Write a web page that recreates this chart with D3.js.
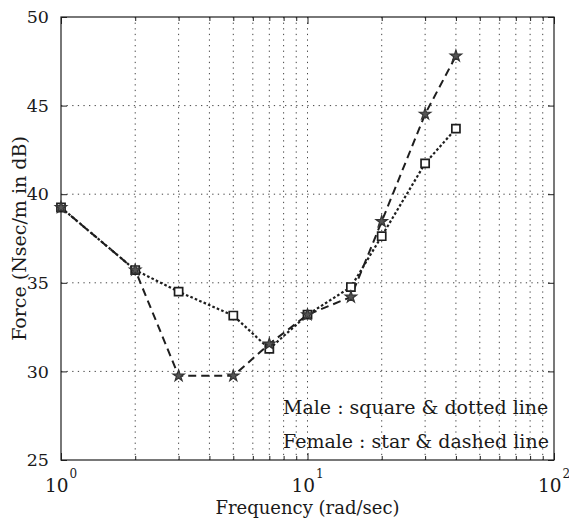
<!DOCTYPE html>
<html>
<head>
<meta charset="utf-8">
<script src="https://cdn.jsdelivr.net/npm/d3@7"></script>
<style>
  html, body { margin: 0; padding: 0; background: #ffffff; }
  svg { display: block; }
  text { font-family: "DejaVu Serif", "Liberation Serif", serif; fill: #1a1a1a; }
</style>
</head>
<body>
<svg id="chart" width="569" height="519"></svg>
<script>
// Measured force response vs. excitation frequency
const frequencies = [1, 2, 3, 5, 7, 10, 15, 20, 30, 40];
const maleForce   = [39.25, 35.72, 34.5, 33.15, 31.27, 33.2, 34.76, 37.63, 41.74, 43.7];
const femaleForce = [39.25, 35.72, 29.75, 29.75, 31.55, 33.2, 34.2, 38.46, 44.52, 47.8];

const yTickValues = [25, 30, 35, 40, 45, 50];
const xDecadeExponents = [0, 1, 2];
const legendLines = ["Male : square & dotted line", "Female : star & dashed line"];
const xAxisTitle = "Frequency (rad/sec)";
const yAxisTitle = "Force (Nsec/m in dB)";

const svg = d3.select("#chart");
const plot = { left: 61, right: 554, top: 17, bottom: 460 };

const x = d3.scaleLog().domain([1, 100]).range([plot.left, plot.right]);
const y = d3.scaleLinear().domain([25, 50]).range([plot.bottom, plot.top]);

// log-spaced grid positions: 2..9, 10, 20..90
const gridX = [];
for (let d = 1; d < 100; d *= 10) {
  for (let m = 1; m <= 9; m++) {
    const v = m * d;
    if (v > 1 && v < 100) gridX.push(v);
  }
}
const gridY = yTickValues.filter(v => v > 25 && v < 50);

const ink = "#1e1e1e";
const gridColor = "#444";

// dotted grid
const grid = svg.append("g");
grid.selectAll("line.gx").data(gridX).join("line")
  .attr("x1", d => x(d)).attr("x2", d => x(d))
  .attr("y1", plot.top).attr("y2", plot.bottom)
  .attr("stroke", gridColor).attr("stroke-width", 1)
  .attr("stroke-dasharray", "1.3,4.3");
grid.selectAll("line.gy").data(gridY).join("line")
  .attr("x1", plot.left).attr("x2", plot.right)
  .attr("y1", d => y(d)).attr("y2", d => y(d))
  .attr("stroke", gridColor).attr("stroke-width", 1)
  .attr("stroke-dasharray", "1.3,4.3");

// axes with inward ticks
const majorX = xDecadeExponents.map(e => Math.pow(10, e));
const minorX = gridX.filter(v => !majorX.includes(v));

function styleAxis(g) {
  g.select(".domain").remove();
  g.selectAll(".tick line").attr("stroke", ink).attr("stroke-width", 1);
}

svg.append("g").attr("transform", `translate(0,${plot.bottom})`)
  .call(d3.axisBottom(x).tickValues(minorX).tickSize(-4).tickFormat(""))
  .call(styleAxis);
svg.append("g").attr("transform", `translate(0,${plot.top})`)
  .call(d3.axisTop(x).tickValues(minorX).tickSize(-4).tickFormat(""))
  .call(styleAxis);
svg.append("g").attr("transform", `translate(0,${plot.bottom})`)
  .call(d3.axisBottom(x).tickValues(majorX).tickSize(-7).tickFormat(""))
  .call(styleAxis);
svg.append("g").attr("transform", `translate(0,${plot.top})`)
  .call(d3.axisTop(x).tickValues(majorX).tickSize(-7).tickFormat(""))
  .call(styleAxis);

const yAxisG = svg.append("g").attr("transform", `translate(${plot.left},0)`)
  .call(d3.axisLeft(y).tickValues(yTickValues).tickSize(-6).tickPadding(12))
  .call(styleAxis);
yAxisG.selectAll(".tick text")
  .attr("font-family", "DejaVu Serif").attr("font-size", 17.5).attr("fill", ink);
svg.append("g").attr("transform", `translate(${plot.right},0)`)
  .call(d3.axisRight(y).tickValues(yTickValues).tickSize(-6).tickFormat(""))
  .call(styleAxis);

// x tick labels as 10^n
const xLab = svg.append("g");
xDecadeExponents.forEach(e => {
  const t = xLab.append("text")
    .attr("x", x(Math.pow(10, e)))
    .attr("y", plot.bottom + 32)
    .attr("text-anchor", "middle")
    .attr("font-size", 18.5);
  t.append("tspan").text("10");
  t.append("tspan").attr("dy", -14).attr("dx", 1).attr("font-size", 12).text(String(e));
});

// frame
svg.append("rect")
  .attr("x", plot.left).attr("y", plot.top)
  .attr("width", plot.right - plot.left).attr("height", plot.bottom - plot.top)
  .attr("fill", "none").attr("stroke", ink).attr("stroke-width", 1.2);

// series lines
const line = d3.line().x(d => x(d[0])).y(d => y(d[1]));
const femaleData = frequencies.map((f, i) => [f, femaleForce[i]]);
const maleData = frequencies.map((f, i) => [f, maleForce[i]]);

svg.append("path").datum(femaleData)
  .attr("d", line).attr("fill", "none")
  .attr("stroke", ink).attr("stroke-width", 2)
  .attr("stroke-dasharray", "8,5");
svg.append("path").datum(maleData)
  .attr("d", line).attr("fill", "none")
  .attr("stroke", ink).attr("stroke-width", 2.2)
  .attr("stroke-dasharray", "2.6,2.2");

// markers
const square = d3.symbol().type(d3.symbolSquare).size(66);
const star = d3.symbol().type(d3.symbolStar).size(40);

svg.append("g").selectAll("path").data(maleData).join("path")
  .attr("transform", d => `translate(${x(d[0])},${y(d[1])})`)
  .attr("d", square)
  .attr("fill", "#ffffff").attr("stroke", ink).attr("stroke-width", 1.7);
svg.append("g").selectAll("path").data(femaleData).join("path")
  .attr("transform", d => `translate(${x(d[0])},${y(d[1])})`)
  .attr("d", star)
  .attr("fill", "#555").attr("stroke", "#333").attr("stroke-width", 1.2);

// legend text
svg.append("g").selectAll("text").data(legendLines).join("text")
  .attr("x", 283)
  .attr("y", (d, i) => 414 + i * 34)
  .attr("font-size", 19)
  .text(d => d);

// axis titles
svg.append("text")
  .attr("x", (plot.left + plot.right) / 2)
  .attr("y", 514)
  .attr("text-anchor", "middle")
  .attr("font-size", 18)
  .text(xAxisTitle);
svg.append("text")
  .attr("transform", `translate(26,${(plot.top + plot.bottom) / 2}) rotate(-90)`)
  .attr("text-anchor", "middle")
  .attr("font-size", 19)
  .text(yAxisTitle);
</script>
</body>
</html>
